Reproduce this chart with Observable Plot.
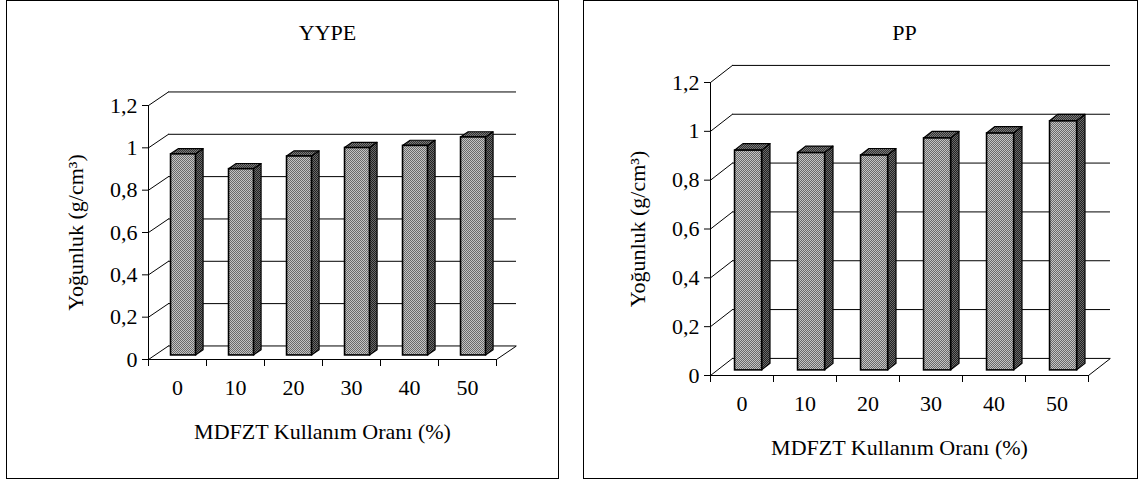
<!DOCTYPE html>
<html><head><meta charset="utf-8">
<script src="https://cdn.jsdelivr.net/npm/d3@7"></script>
<script src="https://cdn.jsdelivr.net/npm/@observablehq/plot@0.6"></script>
<style>
body{margin:0;background:#fff;width:1141px;height:481px;position:relative;overflow:hidden;font-family:"Liberation Serif","Times New Roman",serif;}
.panel{position:absolute;top:0;height:477px;border:1px solid #000;background:#fff;}
.panel svg{position:absolute;left:0;top:0;overflow:visible;}
.panel svg text{font-family:"Liberation Serif","Times New Roman",serif !important;}
.panel svg g[aria-label="y-axis tick label"] text,
.panel svg g[aria-label="x-axis tick label"] text{font-size:22px !important;}
</style></head><body>
<svg width="0" height="0" style="position:absolute">
<defs>
<pattern id="pf" width="2" height="2" patternUnits="userSpaceOnUse"><rect width="2" height="2" fill="#c4c4c4"/><rect width="1" height="1" fill="#6a6a6a"/><rect x="1" y="1" width="1" height="1" fill="#6a6a6a"/></pattern>
<pattern id="ps" width="2" height="2" patternUnits="userSpaceOnUse"><rect width="2" height="2" fill="#6a6a6a"/><rect width="1" height="1" fill="#222"/><rect x="1" y="1" width="1" height="1" fill="#222"/></pattern>
<pattern id="pt" width="2" height="2" patternUnits="userSpaceOnUse"><rect width="2" height="2" fill="#7a7a7a"/><rect width="1" height="1" fill="#333"/><rect x="1" y="1" width="1" height="1" fill="#333"/></pattern>
</defs></svg>
<div id="left" class="panel" style="left:6px;width:551px"></div>
<div id="right" class="panel" style="left:583px;width:553px"></div>
<script>
// ---- data ----
const categories = ["0", "10", "20", "30", "40", "50"];
const yypeValues = [0.95, 0.88, 0.94, 0.98, 0.99, 1.03];
const ppValues = [0.90, 0.89, 0.88, 0.95, 0.97, 1.02];
const yTicks = [0, 0.2, 0.4, 0.6, 0.8, 1, 1.2];
const yTickLabels = ["0", "0,2", "0,4", "0,6", "0,8", "1", "1,2"];
const titles = ["YYPE", "PP"];
const xLabel = "MDFZT Kullanım Oranı (%)";
const yLabel = "Yoğunluk (g/cm³)";

function panel(title, values, L) {
  const n = categories.length;
  const dX = L.depthX, dY = L.depthY;     // wall depth in data units
  const f0 = 0.3, bd = 0.38, w = 0.43;    // bar depth position, bar depth, bar width
  const bx = f0 * dX, by = f0 * dY;
  const bars = values.map((v, i) => ({i, v, xl: i + 0.5 - w / 2 + bx, xr: i + 0.5 + w / 2 + bx, b: by}));
  const side = bars.flatMap(d => [
    {i: d.i, x: d.xr, lo: d.b, hi: d.v + d.b},
    {i: d.i, x: d.xr + bd * dX, lo: d.b + bd * dY, hi: d.v + d.b + bd * dY}
  ]);
  const top = bars.flatMap(d => {
    const f = d.v + d.b, g = f + bd * dY;
    return [
      {i: d.i, x: d.xl, lo: f, hi: f},
      {i: d.i, x: d.xl + bd * dX, lo: f, hi: g},
      {i: d.i, x: d.xr, lo: f, hi: g},
      {i: d.i, x: d.xr + bd * dX, lo: g, hi: g}
    ];
  });
  const ymax = yTicks[yTicks.length - 1];
  return Plot.plot({
    width: L.width, height: L.height,
    marginLeft: L.marginLeft, marginRight: L.marginRight,
    marginTop: L.marginTop, marginBottom: L.marginBottom,
    style: {fontFamily: '"Liberation Serif","Times New Roman",serif', fontSize: "22px", background: "transparent", color: "#000"},
    x: {domain: [0, n]},
    y: {domain: [0, ymax]},
    marks: [
      Plot.ruleY(yTicks, {y: d => d + dY, x1: () => dX, x2: () => n + dX, stroke: "#000", strokeWidth: 1}),
      Plot.link(yTicks, {x1: () => 0, y1: d => d, x2: () => dX, y2: d => d + dY, stroke: "#000", strokeWidth: 1}),
      Plot.link([0], {x1: () => n, y1: () => 0, x2: () => n + dX, y2: () => dY, stroke: "#000", strokeWidth: 1}),
      Plot.ruleY([0], {stroke: "#000", strokeWidth: 1}),
      Plot.ruleX([0], {y1: () => 0, y2: () => ymax, stroke: "#000", strokeWidth: 1}),
      Plot.area(side, {x1: "x", y1: "lo", y2: "hi", z: "i", curve: "linear", fill: "url(#ps)", stroke: "#000", strokeWidth: 1.2}),
      Plot.area(top, {x1: "x", y1: "lo", y2: "hi", z: "i", curve: "linear", fill: "url(#pt)", stroke: "#000", strokeWidth: 1.2}),
      Plot.rect(bars, {x1: "xl", x2: "xr", y1: "b", y2: d => d.v + d.b, fill: "url(#pf)", stroke: "#000", strokeWidth: 1.6}),
      Plot.axisY({ticks: yTicks, tickFormat: d => yTickLabels[yTicks.indexOf(d)], tickSize: 6, tickPadding: 5, fontSize: 22, label: null, stroke: "#000"}),
      Plot.axisX({ticks: d3.range(n + 1), tickFormat: () => "", tickSize: 7, label: null, stroke: "#000"}),
      Plot.axisX({ticks: categories.map((c, i) => i + 0.5), tickFormat: d => categories[Math.floor(d)], tickSize: 0, tickPadding: 20, fontSize: 22, label: null}),
      Plot.text([title], {text: d => d, frameAnchor: "top", dy: 31 - L.marginTop, dx: 5, fontSize: 22, lineAnchor: "middle", textAnchor: "middle"}),
      Plot.text([xLabel], {text: d => d, frameAnchor: "bottom", dy: 72, fontSize: 22, lineAnchor: "middle", textAnchor: "middle"}),
      Plot.text([yLabel], {text: d => d, frameAnchor: "left", dx: -73, rotate: -90, fontSize: 22, lineAnchor: "middle", textAnchor: "middle"})
    ]
  });
}

document.getElementById("left").appendChild(panel(titles[0], yypeValues, {
  width: 551, height: 477, marginLeft: 141, marginRight: 62, marginTop: 104, marginBottom: 119,
  depthX: 0.345, depthY: 0.064
}));
document.getElementById("right").appendChild(panel(titles[1], ppValues, {
  width: 553, height: 477, marginLeft: 126, marginRight: 49, marginTop: 81, marginBottom: 103,
  depthX: 0.349, depthY: 0.07
}));
</script>
</body></html>
